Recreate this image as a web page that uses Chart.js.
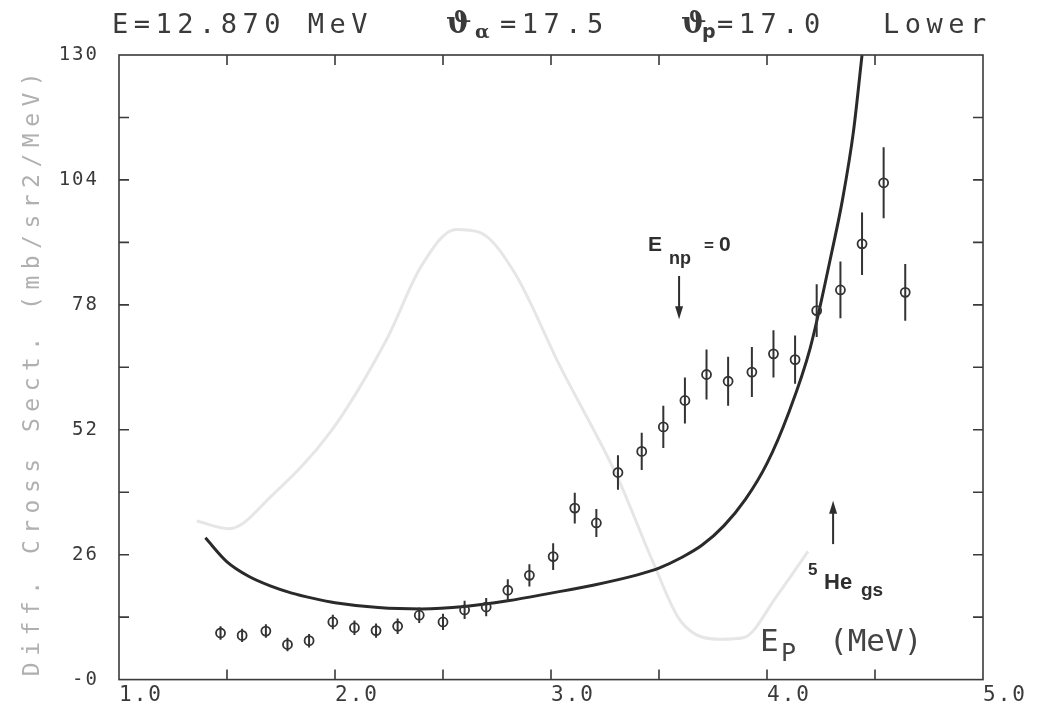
<!DOCTYPE html>
<html>
<head>
<meta charset="utf-8">
<script src="https://cdn.jsdelivr.net/npm/chart.js@4.4.0/dist/chart.umd.min.js"></script>
<style>
  html, body { margin: 0; padding: 0; background: #fff; }
</style>
</head>
<body>
<canvas id="chart" width="1037" height="711"></canvas>
<script>
// measured points: Ep (MeV), cross section (mb/sr2/MeV) and error
const ep = [1.47, 1.57, 1.68, 1.78, 1.88, 1.99, 2.09, 2.19, 2.29, 2.39, 2.50, 2.60, 2.70,
            2.80, 2.90, 3.01, 3.11, 3.21, 3.31, 3.42, 3.52, 3.62, 3.72, 3.82, 3.93,
            4.03, 4.13, 4.23, 4.34, 4.44, 4.54, 4.64];
const sigma = [9.7, 9.2, 10.1, 7.3, 8.1, 12.0, 10.8, 10.2, 11.1, 13.4, 12.0, 14.5, 15.1,
               18.6, 21.7, 25.6, 35.7, 32.6, 43.1, 47.5, 52.6, 58.1, 63.5, 62.1, 64.0,
               67.8, 66.6, 76.8, 81.1, 90.7, 103.4, 80.6];
const sigmaErr = [1.4, 1.4, 1.4, 1.4, 1.4, 1.5, 1.5, 1.5, 1.6, 1.6, 1.7, 1.9, 1.9,
                  2.3, 2.3, 2.8, 3.2, 2.9, 3.6, 3.9, 4.4, 4.8, 5.2, 5.1, 5.2,
                  4.9, 5.0, 5.5, 5.9, 6.5, 7.4, 5.9];

// calculated curve
const curveEp = [1.40, 1.50, 1.60, 1.70, 1.80, 1.90, 2.00, 2.20, 2.40, 2.60, 2.80, 3.00,
                 3.20, 3.40, 3.50, 3.60, 3.70, 3.80, 3.90, 4.00, 4.10, 4.20, 4.30, 4.35, 4.40, 4.44];
const curveSigma = [29.5, 24.5, 21.5, 19.5, 18.0, 16.9, 16.0, 15.0, 14.7, 15.2, 16.4, 18.0,
                    19.7, 21.8, 23.2, 25.3, 28.0, 32.0, 37.5, 45.0, 55.5, 69.0, 89.0, 100.0, 114.0, 130.0];

// faint curve showing through from the back of the page
const ghostEp = [1.36, 1.51, 1.71, 1.98, 2.24, 2.40, 2.56, 2.67, 2.83, 3.04, 3.31, 3.47,
                 3.60, 3.79, 3.89, 4.05, 4.19];
const ghostSigma = [33.0, 31.4, 38.4, 51.6, 70.9, 86.1, 93.7, 93.1, 84.8, 65.4, 41.9, 24.7,
                    12.2, 8.4, 8.7, 17.7, 26.7];

// axis labels
const xTickLabels = ['1.0', '2.0', '3.0', '4.0', '5.0'];
const yTickLabels = ['-0', '26', '52', '78', '104', '130'];

const ink = '#333333';
const mono = '"DejaVu Sans Mono"';

function toPoints(xs, ys) {
    return xs.map((x, i) => ({ x: x, y: ys[i] }));
}

// white paper and a little letter spacing like the plotter font
const paperPlugin = {
    id: 'paper',
    beforeDraw(chart) {
        const ctx = chart.ctx;
        ctx.save();
        ctx.fillStyle = '#ffffff';
        ctx.fillRect(0, 0, chart.width, chart.height);
        ctx.restore();
        ctx.letterSpacing = '2px';
    }
};

// frame with inward ticks on all four sides
const framePlugin = {
    id: 'frame',
    afterDatasetsDraw(chart) {
        const { ctx, chartArea: a, scales: { x, y } } = chart;
        ctx.save();
        ctx.strokeStyle = '#3a3a3a';
        ctx.lineWidth = 1.6;
        ctx.strokeRect(a.left, a.top, a.right - a.left, a.bottom - a.top);
        ctx.beginPath();
        x.ticks.forEach(t => {
            const px = x.getPixelForValue(t.value);
            if (px <= a.left + 1 || px >= a.right - 1) return;
            ctx.moveTo(px, a.bottom); ctx.lineTo(px, a.bottom - 10);
            ctx.moveTo(px, a.top); ctx.lineTo(px, a.top + 10);
        });
        y.ticks.forEach(t => {
            const py = y.getPixelForValue(t.value);
            if (py <= a.top + 1 || py >= a.bottom - 1) return;
            ctx.moveTo(a.left, py); ctx.lineTo(a.left + 10, py);
            ctx.moveTo(a.right, py); ctx.lineTo(a.right - 10, py);
        });
        ctx.stroke();
        ctx.restore();
    }
};

// vertical error bars through the data points
const errorBarPlugin = {
    id: 'errorBars',
    afterDatasetsDraw(chart) {
        const { ctx, scales: { x, y } } = chart;
        ctx.save();
        ctx.strokeStyle = ink;
        ctx.lineWidth = 2;
        ctx.beginPath();
        ep.forEach((e, i) => {
            const px = x.getPixelForValue(e);
            ctx.moveTo(px, y.getPixelForValue(sigma[i] - sigmaErr[i]));
            ctx.lineTo(px, y.getPixelForValue(sigma[i] + sigmaErr[i]));
        });
        ctx.stroke();
        ctx.restore();
    }
};

function arrow(ctx, x, y0, y1) {
    const dir = y1 > y0 ? 1 : -1;
    ctx.beginPath();
    ctx.moveTo(x, y0);
    ctx.lineTo(x, y1 - dir * 10);
    ctx.stroke();
    ctx.beginPath();
    ctx.moveTo(x, y1);
    ctx.lineTo(x - 4, y1 - dir * 13);
    ctx.lineTo(x + 4, y1 - dir * 13);
    ctx.closePath();
    ctx.fill();
}

// title, axis titles and the two markers
const textPlugin = {
    id: 'texts',
    afterDraw(chart) {
        const { ctx, scales: { x, y } } = chart;
        ctx.save();
        ctx.fillStyle = '#3a3a3a';
        ctx.textBaseline = 'alphabetic';

        ctx.font = '27px ' + mono;
        ctx.letterSpacing = '5.5px';
        ctx.fillText('E=12.870 MeV', 112, 33);
        ctx.fillText('=17.5', 500, 33);
        ctx.fillText('=17.0', 717, 33);
        ctx.fillText('Lower', 883, 33);
        ctx.letterSpacing = '0px';
        ctx.font = 'bold 30px "DejaVu Serif"';
        ctx.fillText('\u03D1', 446, 33);
        ctx.fillText('\u03D1', 681, 33);
        ctx.font = 'bold 19px "DejaVu Serif"';
        ctx.fillText('\u03B1', 475, 38);
        ctx.font = 'bold 19px "DejaVu Sans"';
        ctx.fillText('p', 702, 38);

        // x axis title inside the frame
        ctx.fillStyle = '#444';
        ctx.font = '31px ' + mono;
        ctx.fillText('E', 760, 651);
        ctx.fillText('(MeV)', 829, 651);
        ctx.font = '25px ' + mono;
        ctx.fillText('P', 781, 661);

        // y axis title, faded
        ctx.save();
        ctx.translate(33, 371);
        ctx.rotate(-Math.PI / 2);
        ctx.font = '23px ' + mono;
        ctx.letterSpacing = '6.5px';
        ctx.fillStyle = '#b0b0b0';
        ctx.textAlign = 'center';
        ctx.textBaseline = 'middle';
        ctx.fillText('Diff. Cross Sect. (mb/sr2/MeV)', 0, 0);
        ctx.restore();

        // E_np = 0 marker
        ctx.fillStyle = '#2e2e2e';
        ctx.strokeStyle = '#2e2e2e';
        ctx.lineWidth = 2;
        ctx.font = 'bold 21px "Liberation Sans"';
        ctx.fillText('E', 648, 251);
        ctx.fillText('0', 719, 251);
        ctx.font = 'bold 18px "Liberation Sans"';
        ctx.fillText('np', 669, 264);
        ctx.font = 'bold 17px "Liberation Sans"';
        ctx.fillText('=', 704, 251);
        arrow(ctx, x.getPixelForValue(3.593), y.getPixelForValue(84), y.getPixelForValue(75));

        // 5He gs marker
        ctx.font = 'bold 17px "Liberation Sans"';
        ctx.fillText('5', 808, 575);
        ctx.font = 'bold 22px "Liberation Sans"';
        ctx.fillText('He', 824, 589);
        ctx.font = 'bold 19px "Liberation Sans"';
        ctx.fillText('gs', 861, 596);
        arrow(ctx, x.getPixelForValue(4.306), y.getPixelForValue(28.2), y.getPixelForValue(37.2));

        ctx.restore();
    }
};

const ctx = document.getElementById('chart').getContext('2d');

const chart = new Chart(ctx, {
    type: 'scatter',
    data: {
        datasets: [
            {
                label: 'ghost',
                data: toPoints(ghostEp, ghostSigma),
                showLine: true,
                borderColor: '#e6e6e6',
                borderWidth: 3,
                pointRadius: 0,
                cubicInterpolationMode: 'monotone',
                order: 3
            },
            {
                label: 'calc',
                data: toPoints(curveEp, curveSigma),
                showLine: true,
                borderColor: '#2a2a2a',
                borderWidth: 3,
                pointRadius: 0,
                cubicInterpolationMode: 'monotone',
                order: 2
            },
            {
                label: 'data',
                data: toPoints(ep, sigma),
                showLine: false,
                pointStyle: 'circle',
                pointRadius: 4.5,
                borderWidth: 1.8,
                borderColor: ink,
                backgroundColor: 'rgba(255,255,255,0)',
                order: 1
            }
        ]
    },
    options: {
        responsive: false,
        animation: false,
        layout: { padding: { top: 55, right: 54, left: 0, bottom: 0 } },
        plugins: {
            legend: { display: false },
            tooltip: { enabled: false }
        },
        scales: {
            x: {
                type: 'linear',
                min: 1,
                max: 5,
                grid: { display: false, drawTicks: false },
                border: { display: false },
                ticks: {
                    stepSize: 0.5,
                    align: 'start',
                    padding: 3,
                    maxRotation: 0,
                    autoSkip: false,
                    color: '#3a3a3a',
                    font: { family: 'DejaVu Sans Mono', size: 21 },
                    callback: v => Number.isInteger(v) ? xTickLabels[v - 1] : ''
                },
                afterFit: scale => { scale.height = 29; }
            },
            y: {
                type: 'linear',
                min: 0,
                max: 130,
                grid: { display: false, drawTicks: false },
                border: { display: false },
                ticks: {
                    stepSize: 13,
                    padding: 20,
                    autoSkip: false,
                    color: '#3a3a3a',
                    font: { family: 'DejaVu Sans Mono', size: 19 },
                    callback: v => v % 26 === 0 ? yTickLabels[v / 26] : ''
                },
                afterFit: scale => { scale.width = 119; }
            }
        }
    },
    plugins: [paperPlugin, framePlugin, errorBarPlugin, textPlugin]
});
</script>
</body>
</html>
